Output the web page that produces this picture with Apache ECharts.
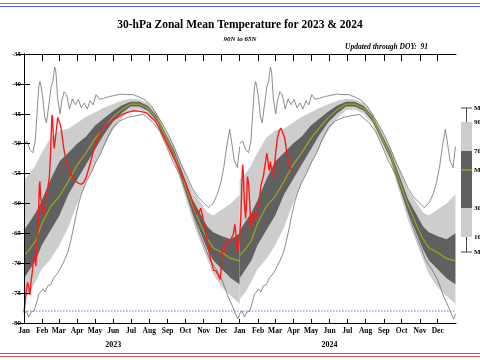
<!DOCTYPE html>
<html><head><meta charset="utf-8">
<script src="https://cdn.jsdelivr.net/npm/echarts@6/dist/echarts.min.js"></script>
<style>html,body{margin:0;padding:0;background:#fff}#c{width:480px;height:360px}</style>
</head><body><div id="c"></div>
<script>
// ---------- data ----------
const monthNames = ['Jan','Feb','Mar','Apr','May','Jun','Jul','Aug','Sep','Oct','Nov','Dec'];
const monthLengths2023 = [31,28,31,30,31,30,31,31,30,31,30,31];
const monthLengths2024 = [31,29,31,30,31,30,31,31,30,31,30,31];
const yearLabels = ['2023','2024'];
const yearStartDay = [0, 365];
const yTickLabels = [-80,-75,-70,-65,-60,-55,-50,-45,-40,-35];
const pscTemp = -78;

// climatology (day of year)
const climDoy  = [0,10,20,30,45,60,75,90,105,120,135,150,165,180,195,210,225,240,255,270,285,300,310,320,335,350,365];
const climP90  = [-56.0,-55.0,-53.5,-51.5,-49.0,-47.8,-47.5,-46.5,-45.5,-44.8,-44.0,-43.4,-42.8,-42.5,-42.6,-43.2,-44.9,-47.8,-50.6,-54.3,-57.8,-60.0,-61.5,-62.0,-61.0,-60.0,-58.5];
const climP70  = [-64.5,-63.0,-61.5,-59.5,-56.0,-53.0,-51.5,-50.0,-48.8,-47.0,-45.8,-44.6,-43.6,-43.0,-43.0,-43.7,-45.4,-48.4,-51.3,-55.3,-59.3,-62.0,-63.8,-64.8,-65.5,-66.0,-65.0];
const climMean = [-68.7,-67.6,-66.2,-63.4,-60.5,-58.8,-56.3,-53.6,-51.5,-49.2,-47.3,-45.6,-44.3,-43.4,-43.4,-44.1,-45.8,-48.9,-51.9,-56.2,-60.3,-63.8,-65.9,-67.4,-68.2,-69.2,-69.6];
const climP30  = [-72.5,-71.0,-69.5,-67.0,-64.5,-62.0,-58.5,-56.0,-53.5,-51.0,-48.5,-46.4,-44.9,-43.8,-43.8,-44.5,-46.3,-49.4,-52.5,-57.0,-61.5,-65.2,-67.6,-69.5,-71.0,-72.5,-73.5];
const climP10  = [-76.0,-74.8,-73.0,-71.0,-69.3,-67.0,-64.0,-60.0,-56.5,-53.5,-50.5,-47.8,-45.8,-44.4,-44.3,-45.0,-46.8,-50.0,-53.2,-58.0,-62.8,-66.8,-69.3,-71.8,-74.0,-75.5,-76.8];

const maxDoy = [0,5,10,15,19,22,25,27,29,32,35,38,42,46,49,52,54,57,61,64,68,72,77,82,87,92,97,102,107,112,117,122,128,135,145,155,165,175,185,195,205,215,225,235,245,255,265,275,285,295,305,312,320,327,333,338,343,348,351,356,361,365];
const maxVal = [-50.0,-49.6,-51.0,-51.5,-49.5,-45.0,-40.5,-39.6,-40.5,-42.5,-45.5,-46.5,-43.5,-40.5,-39.5,-37.2,-38.0,-42.5,-45.0,-42.8,-41.3,-41.8,-44.2,-42.5,-43.5,-42.6,-44.0,-43.2,-44.2,-42.8,-43.5,-41.8,-42.6,-42.4,-42.1,-41.9,-41.7,-41.8,-41.8,-42.2,-42.7,-43.6,-45.2,-46.8,-48.6,-50.8,-53.2,-55.3,-57.5,-59.0,-60.0,-60.7,-60.0,-58.5,-56.5,-54.0,-50.5,-47.6,-49.5,-52.9,-54.0,-50.5];

const minDoy = [0,4,8,12,17,21,25,28,32,36,40,45,50,56,62,68,74,79,84,88,93,98,105,113,122,130,140,150,162,175,185,202,219,230,241,252,264,275,285,295,305,315,325,335,345,352,358,362,365];
const minVal = [-78.5,-78.0,-79.0,-78.2,-78.0,-76.7,-75.2,-75.0,-74.3,-74.8,-73.8,-73.6,-72.5,-71.8,-70.8,-69.6,-68.2,-66.3,-64.0,-62.0,-59.8,-58.2,-56.5,-55.0,-53.0,-51.6,-49.2,-47.3,-46.2,-45.6,-45.4,-45.1,-46.5,-48.0,-50.4,-53.0,-55.2,-58.5,-61.5,-64.5,-67.0,-69.5,-71.0,-72.8,-75.5,-77.0,-78.5,-79.3,-78.5];

// observations (days since 1 Jan 2023)
const obsDay = [0,2,4,6,8,10,12,14,16,18,20,22,24,26,27,28,30,32,35,37,40,43,45,47,48,50,51,53,55,57,59,62,64,67,70,75,80,86,92,97,101,105,110,115,120,125,132,141,150,157,165,174,185,197,208,213,222,230,241,253,264,273,280,286,292,296,299,302,306,309,313,317,321,325,329,332,334,335,338,340,343,347,351,354,357,359,361,363,364,
  365,367,369,370,371,373,375,377,378,380,382,384,386,389,392,395,398,401,405,408,411,413,415,417,419,421,423,426,429,432,435,438,441,444,447,450,453];
const obsVal = [-78.2,-76.5,-74.5,-73.2,-74.0,-75.3,-73.0,-71.5,-69.5,-68.8,-70.5,-67.0,-63.5,-57.0,-56.3,-59.0,-60.0,-61.2,-61.8,-58.8,-57.5,-55.5,-51.5,-45.6,-45.2,-49.5,-50.8,-50.5,-47.5,-45.6,-45.5,-47.0,-48.3,-50.6,-52.3,-54.0,-55.2,-56.2,-56.6,-56.8,-56.5,-55.7,-54.0,-52.2,-50.3,-49.0,-47.6,-46.7,-46.0,-45.7,-45.2,-44.8,-44.5,-44.6,-44.9,-45.4,-46.2,-47.6,-49.8,-52.3,-54.6,-56.5,-58.3,-60.1,-61.7,-61.5,-60.8,-62.0,-64.3,-65.7,-68.0,-69.8,-71.2,-71.3,-72.1,-72.7,-70.5,-67.6,-68.2,-67.3,-66.3,-66.5,-65.8,-65.2,-63.5,-65.5,-68.2,-67.0,-66.0,
  -65.5,-62.0,-55.5,-53.5,-54.8,-60.0,-62.5,-59.0,-55.5,-56.5,-60.0,-64.0,-63.0,-61.5,-62.5,-61.0,-59.5,-57.0,-55.5,-53.5,-51.6,-53.0,-54.5,-53.0,-54.5,-55.5,-54.5,-51.5,-49.0,-47.8,-47.4,-47.6,-49.0,-51.0,-52.8,-53.9,-54.5];

// ---------- build ----------
const monthStarts = [];
{
  let d = 0;
  monthLengths2023.forEach(l => { monthStarts.push(d); d += l; });
  monthLengths2024.forEach(l => { monthStarts.push(d); d += l; });
}
const totalDays = 365 + 366;
const yearMidDays = [yearStartDay[0] + monthStarts[5], monthStarts[17]];

const FONT = '"Liberation Serif","Times New Roman",serif';
const C_LIGHT = '#cdcdcd', C_DARK = '#606060', C_MEAN = '#a3a31c', C_MM = '#6e6e6e', C_OBS = '#ff1a1a';

function pairs(xs, ys, off) { return xs.map((x, i) => [x + off, ys[i]]); }

function band(upper, lower, color, off) {
  return {
    type: 'custom', coordinateSystem: 'cartesian2d', silent: true, z: 1,
    data: [[off + 180, -60]], clip: true,
    renderItem: function (params, api) {
      const pts = [];
      for (let i = 0; i < climDoy.length; i++) pts.push(api.coord([climDoy[i] + off, upper[i]]));
      for (let i = climDoy.length - 1; i >= 0; i--) pts.push(api.coord([climDoy[i] + off, lower[i]]));
      return { type: 'polygon', shape: { points: pts }, style: { fill: color } };
    }
  };
}
function line(data, color, width, z) {
  return { type: 'line', data: data, showSymbol: false, symbol: 'none', silent: true, z: z,
    lineStyle: { color: color, width: width }, animation: false, clip: true };
}

const series = [];
yearStartDay.forEach(off => {
  series.push(band(climP90, climP10, C_LIGHT, off));
  series.push(band(climP70, climP30, C_DARK, off));
});
yearStartDay.forEach(off => {
  series.push(line(pairs(maxDoy, maxVal, off), C_MM, 0.8, 3));
  series.push(line(pairs(minDoy, minVal, off), C_MM, 0.8, 3));
  series.push(line(pairs(climDoy, climMean, off), C_MEAN, 1.2, 4));
});
series.push(line(pairs(obsDay, obsVal, 0), C_OBS, 1.4, 5));
series.push({ type: 'line', data: [[0, pscTemp], [totalDays, pscTemp]], showSymbol: false, symbol: 'none', silent: true, z: 6,
  lineStyle: { color: '#6b6bff', width: 1, type: [1.5, 1.5] } });

const chart = echarts.init(document.getElementById('c'), null, { renderer: 'canvas' });
const axisFontBase = { fontFamily: FONT, fontWeight: 'bold', color: '#000', fontSize: 7.5 };

const legX = 461, legW = 11, legCx = legX + legW / 2;
const legendRows = [['Max', 108], ['90%', 122], ['70%', 151], ['Mean', 170], ['30%', 208], ['10%', 237], ['Min', 252]];

chart.setOption({
  animation: false,
  backgroundColor: '#fff',
  grid: { left: 24, right: 24, top: 54, bottom: 37, containLabel: false, outerBoundsMode: 'none' },
  xAxis: [
    { type: 'value', min: 0, max: totalDays, position: 'bottom', z: 10,
      axisLine: { show: true, lineStyle: { color: '#000', width: 1 } },
      splitLine: { show: false },
      axisTick: { show: true, inside: true, length: 4, customValues: monthStarts, lineStyle: { color: '#000' } },
      axisLabel: { show: true, margin: 4, customValues: monthStarts, ...axisFontBase,
        formatter: v => monthNames[monthStarts.indexOf(v) % 12] } },
    { type: 'value', min: 0, max: totalDays, position: 'top', z: 10,
      axisLine: { show: true, lineStyle: { color: '#000', width: 1 } },
      splitLine: { show: false },
      axisTick: { show: true, inside: true, length: 7, customValues: monthStarts, lineStyle: { color: '#000' } },
      axisLabel: { show: false } },
    { type: 'value', min: 0, max: totalDays, position: 'bottom', offset: 10, z: 10,
      axisLine: { show: false }, splitLine: { show: false }, axisTick: { show: false },
      axisLabel: { show: true, customValues: yearMidDays, ...axisFontBase, fontSize: 8,
        formatter: v => yearLabels[yearMidDays.indexOf(v)] } }
  ],
  yAxis: [
    { type: 'value', min: -80, max: -35, interval: 5, position: 'left', z: 10,
      name: 'Temperature (C)', nameLocation: 'middle', nameGap: 18, nameRotate: 90,
      nameTextStyle: { fontFamily: FONT, fontWeight: 'bold', fontSize: 7, color: '#000' },
      axisLine: { show: true, lineStyle: { color: '#000', width: 1 } },
      splitLine: { show: false },
      axisTick: { show: true, inside: true, length: 6, lineStyle: { color: '#000' } },
      axisLabel: { show: true, margin: 3, ...axisFontBase, fontSize: 7 } },
    { type: 'value', min: -80, max: -35, interval: 5, position: 'right', z: 10,
      axisLine: { show: true, lineStyle: { color: '#000', width: 1 } },
      splitLine: { show: false },
      axisTick: { show: true, inside: true, length: 7, lineStyle: { color: '#000' } },
      axisLabel: { show: false } }
  ],
  series: series,
  title: [
    { text: '30-hPa Zonal Mean Temperature for 2023 & 2024', left: 'center', top: 19, padding: 0,
      textStyle: { fontFamily: FONT, fontWeight: 'bold', fontSize: 11.5, color: '#000' } },
    { text: '90N to 65N', left: 'center', top: 36, padding: 0,
      textStyle: { fontFamily: FONT, fontWeight: 'bold', fontStyle: 'italic', fontSize: 7, color: '#000' } },
    { text: 'Updated through DOY:  ' + 91, left: 345, top: 43, padding: 0,
      textStyle: { fontFamily: FONT, fontWeight: 'bold', fontStyle: 'italic', fontSize: 7.5, color: '#000' } }
  ],
  graphic: [
    { type: 'line', shape: { x1: 0, y1: 3.5, x2: 480, y2: 3.5 }, style: { stroke: '#e25a5a', lineWidth: 1 } },
    { type: 'line', shape: { x1: 0, y1: 6.5, x2: 480, y2: 6.5 }, style: { stroke: '#5a5af0', lineWidth: 1 } },
    { type: 'line', shape: { x1: 0, y1: 353.5, x2: 480, y2: 353.5 }, style: { stroke: '#5a5af0', lineWidth: 1 } },
    { type: 'line', shape: { x1: 0, y1: 356.5, x2: 480, y2: 356.5 }, style: { stroke: '#e25a5a', lineWidth: 1 } },
    // legend key
    { type: 'line', shape: { x1: legCx, y1: 108, x2: legCx, y2: 122 }, style: { stroke: '#444', lineWidth: 1 } },
    { type: 'line', shape: { x1: legX, y1: 108, x2: legX + legW, y2: 108 }, style: { stroke: '#444', lineWidth: 1 } },
    { type: 'rect', shape: { x: legX, y: 122, width: legW, height: 115 }, style: { fill: C_LIGHT } },
    { type: 'rect', shape: { x: legX, y: 151, width: legW, height: 57 }, style: { fill: C_DARK } },
    { type: 'line', shape: { x1: legX, y1: 170, x2: legX + legW, y2: 170 }, style: { stroke: C_MEAN, lineWidth: 1.5 } },
    { type: 'line', shape: { x1: legCx, y1: 237, x2: legCx, y2: 252 }, style: { stroke: '#444', lineWidth: 1 } },
    { type: 'line', shape: { x1: legX, y1: 252, x2: legX + legW, y2: 252 }, style: { stroke: '#444', lineWidth: 1 } },
    ...legendRows.map(r => ({ type: 'text', x: 474, y: r[1], style: { text: r[0], fontFamily: FONT, fontWeight: 'bold', fontSize: 7, fill: '#000', verticalAlign: 'middle' } }))
  ]
});
</script>
</body></html>
